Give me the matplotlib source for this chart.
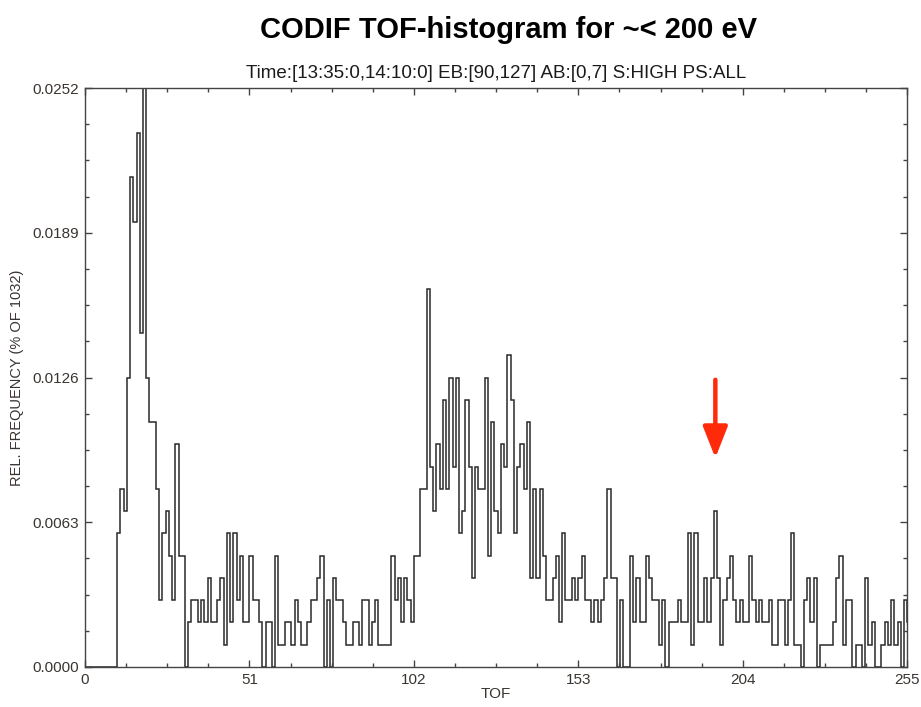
import numpy as np
import matplotlib.pyplot as plt
from matplotlib.ticker import MultipleLocator, FormatStrFormatter

# counts per TOF channel (0..255), total events = 1032
total = 1032
counts = [
    0, 0, 0, 0, 0, 0, 0, 0, 0, 0,
    6, 8, 7, 13, 22, 20, 24, 15, 26, 13,
    11, 11, 8, 3, 6, 7, 5, 3, 10, 5,
    5, 0, 2, 3, 3, 2, 3, 2, 4, 2,
    2, 3, 4, 1, 6, 2, 6, 3, 5, 2,
    2, 5, 3, 3, 2, 0, 2, 2, 0, 5,
    1, 1, 2, 2, 1, 3, 2, 1, 1, 2,
    3, 3, 4, 5, 0, 3, 0, 4, 3, 3,
    2, 1, 1, 2, 2, 1, 3, 3, 1, 2,
    3, 1, 1, 1, 1, 5, 3, 4, 2, 4,
    3, 2, 5, 5, 8, 8, 17, 9, 7, 10,
    8, 12, 8, 13, 9, 13, 6, 7, 12, 9,
    4, 9, 8, 8, 13, 5, 11, 7, 6, 10,
    9, 14, 12, 6, 9, 10, 8, 11, 4, 8,
    4, 8, 5, 3, 3, 4, 5, 2, 6, 3,
    3, 4, 3, 4, 5, 3, 3, 2, 3, 2,
    3, 4, 8, 4, 4, 0, 3, 0, 0, 5,
    2, 4, 2, 2, 5, 4, 3, 3, 1, 3,
    0, 2, 2, 2, 3, 2, 2, 6, 1, 6,
    2, 2, 4, 2, 4, 7, 4, 1, 3, 4,
    5, 3, 2, 3, 2, 2, 5, 3, 2, 3,
    2, 2, 3, 1, 1, 3, 3, 1, 3, 6,
    1, 1, 0, 3, 4, 2, 4, 0, 1, 1,
    1, 1, 2, 4, 5, 1, 3, 3, 0, 1,
    1, 0, 4, 1, 2, 0, 0, 1, 2, 1,
    3, 1, 2, 0, 3, 2,
]
x_ticks = [0, 51, 102, 153, 204, 255]
y_ticks = [0.0, 0.0063, 0.0126, 0.0189, 0.0252]
title = "CODIF TOF-histogram for ~< 200 eV"
subtitle = "Time:[13:35:0,14:10:0] EB:[90,127] AB:[0,7] S:HIGH PS:ALL"
arrow_tof = 195.5
arrow_top = 0.0125
arrow_tip = 0.0091

plt.rcParams['font.family'] = ['Liberation Sans', 'DejaVu Sans']
txt = '#3a3430'

freq = np.array(counts) / total
edges = np.arange(len(counts) + 1)

fig = plt.figure(figsize=(9.21, 7.07), dpi=100)
ax = fig.add_axes([0.0923, 0.0566, 0.8927, 0.8189])

ax.stairs(freq, edges, color='#2a2a2a', lw=1.1, baseline=0)

ax.set_xlim(0, 255)
ax.set_ylim(0, 0.0252)
ax.set_xticks(x_ticks)
ax.set_yticks(y_ticks)
ax.xaxis.set_minor_locator(MultipleLocator(51 / 4))
ax.yaxis.set_minor_locator(MultipleLocator(0.0063 / 4))
ax.yaxis.set_major_formatter(FormatStrFormatter('%.4f'))
ax.tick_params(which='both', direction='in', top=True, right=True,
               labelsize=11, labelcolor=txt, color='#444444', pad=4)
ax.tick_params(which='major', length=5, width=1)
ax.tick_params(which='minor', length=3, width=1)
for s in ax.spines.values():
    s.set_color('#444444')
    s.set_linewidth(1.0)

ax.set_xlabel('TOF', fontsize=11, color=txt, labelpad=0)
ax.set_ylabel('REL. FREQUENCY (% OF 1032)', fontsize=10.5, color=txt, labelpad=6)

fig.text(0.552, 0.958, title, ha='center', va='center', fontsize=21,
         fontweight='bold')
fig.text(0.539, 0.896, subtitle, ha='center', va='center', fontsize=13.5,
         color='#1a1a1a')

ax.annotate('', xy=(arrow_tof, arrow_tip), xytext=(arrow_tof, arrow_top),
            arrowprops=dict(arrowstyle='-|>,head_width=0.75,head_length=1.9',
                            color='#ff2a0a', lw=3.2, shrinkA=0, shrinkB=0))

fig.savefig('out.png', dpi=100)
